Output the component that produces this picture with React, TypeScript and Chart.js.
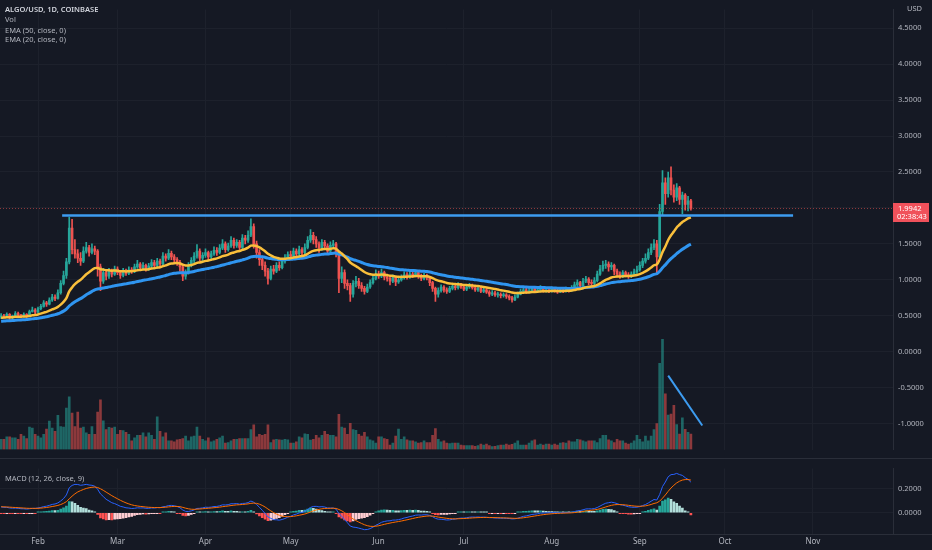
import React, { useEffect, useRef } from 'react';
import { Chart, registerables } from 'chart.js';
Chart.register(...registerables);

// ---------- DATA ----------
const firstOpen = 0.48;
const closes = [
  0.50,0.49,0.52,0.47,0.50,0.53,0.51,0.49,0.52,0.50,
  0.56,0.58,0.55,0.60,0.63,0.68,0.66,0.72,0.76,0.74,
  0.82,0.95,1.06,1.25,1.72,1.42,1.36,1.30,1.26,1.40,
  1.45,1.38,1.43,1.40,1.18,0.98,1.10,1.05,1.12,1.08,
  1.15,1.10,1.06,1.12,1.09,1.14,1.12,1.18,1.22,1.17,
  1.20,1.15,1.19,1.24,1.20,1.26,1.22,1.33,1.30,1.37,
  1.32,1.28,1.24,1.18,1.05,1.10,1.20,1.27,1.33,1.40,
  1.30,1.34,1.38,1.32,1.36,1.41,1.38,1.44,1.50,1.42,
  1.47,1.55,1.48,1.52,1.45,1.58,1.55,1.62,1.74,1.50,
  1.38,1.28,1.20,1.12,1.02,1.15,1.12,1.20,1.17,1.26,
  1.30,1.35,1.33,1.40,1.36,1.42,1.38,1.45,1.55,1.62,
  1.56,1.50,1.44,1.52,1.47,1.40,1.48,1.50,1.38,1.02,
  1.10,0.95,0.92,0.80,0.95,0.98,0.92,0.88,0.84,0.90,
  0.96,1.02,1.08,1.05,1.10,1.04,1.02,0.98,1.03,0.97,
  1.00,1.03,1.07,1.04,1.08,1.06,1.10,1.05,1.02,1.06,
  1.03,0.96,0.88,0.80,0.85,0.90,0.86,0.84,0.88,0.91,
  0.89,0.93,0.90,0.87,0.90,0.92,0.89,0.86,0.88,0.84,
  0.86,0.83,0.80,0.82,0.79,0.80,0.78,0.79,0.77,0.75,
  0.72,0.76,0.80,0.84,0.86,0.83,0.85,0.88,0.84,0.86,
  0.89,0.85,0.86,0.84,0.87,0.85,0.83,0.86,0.84,0.87,
  0.85,0.88,0.93,0.96,0.92,0.98,1.01,0.96,0.95,0.99,
  1.08,1.15,1.20,1.22,1.18,1.20,1.12,1.08,1.05,1.10,
  1.07,1.05,1.08,1.11,1.14,1.20,1.26,1.30,1.38,1.45,
  1.50,1.32,1.95,2.35,2.20,2.42,2.25,2.15,2.28,2.12,
  2.18,2.05,2.10,1.9942,
];
const highs = [
  0.53,0.52,0.54,0.53,0.51,0.56,0.55,0.52,0.54,0.53,
  0.58,0.62,0.60,0.62,0.66,0.71,0.70,0.75,0.80,0.79,
  0.86,0.99,1.12,1.30,1.87,1.84,1.56,1.42,1.38,1.46,
  1.52,1.48,1.50,1.47,1.42,1.22,1.16,1.14,1.16,1.15,
  1.19,1.18,1.13,1.16,1.15,1.18,1.17,1.22,1.27,1.24,
  1.24,1.22,1.23,1.28,1.27,1.30,1.29,1.38,1.36,1.42,
  1.40,1.35,1.31,1.27,1.20,1.14,1.24,1.31,1.38,1.49,
  1.43,1.38,1.43,1.40,1.40,1.46,1.45,1.49,1.56,1.53,
  1.51,1.60,1.58,1.56,1.55,1.63,1.62,1.68,1.85,1.78,
  1.54,1.42,1.33,1.25,1.16,1.19,1.20,1.24,1.25,1.30,
  1.35,1.39,1.40,1.44,1.43,1.47,1.45,1.50,1.60,1.70,
  1.66,1.60,1.53,1.56,1.55,1.50,1.53,1.55,1.52,1.40,
  1.18,1.14,1.00,0.95,0.99,1.05,1.02,0.96,0.91,0.94,
  1.00,1.06,1.14,1.12,1.15,1.12,1.08,1.05,1.07,1.05,
  1.04,1.07,1.11,1.10,1.12,1.11,1.14,1.12,1.08,1.09,
  1.08,1.05,0.98,0.90,0.89,0.93,0.92,0.89,0.91,0.94,
  0.93,0.96,0.95,0.92,0.93,0.95,0.94,0.91,0.91,0.90,
  0.89,0.88,0.85,0.85,0.84,0.83,0.82,0.82,0.81,0.79,
  0.77,0.79,0.83,0.87,0.89,0.88,0.88,0.91,0.90,0.89,
  0.92,0.90,0.89,0.88,0.90,0.89,0.87,0.88,0.88,0.90,
  0.89,0.92,0.97,1.00,0.98,1.02,1.05,1.03,1.00,1.03,
  1.12,1.20,1.26,1.27,1.25,1.24,1.22,1.15,1.11,1.13,
  1.12,1.10,1.11,1.15,1.19,1.25,1.30,1.36,1.43,1.50,
  1.56,1.55,2.05,2.52,2.42,2.50,2.57,2.32,2.34,2.30,
  2.22,2.20,2.16,2.12,
];
const lows = [
  0.46,0.47,0.48,0.45,0.46,0.49,0.50,0.47,0.48,0.48,
  0.49,0.55,0.53,0.54,0.58,0.62,0.63,0.65,0.70,0.71,
  0.73,0.80,0.93,1.02,1.22,1.36,1.30,1.24,1.20,1.24,
  1.37,1.33,1.36,1.35,1.05,0.85,0.95,1.00,1.02,1.04,
  1.06,1.07,1.02,1.04,1.06,1.07,1.09,1.10,1.16,1.13,
  1.15,1.12,1.13,1.17,1.17,1.16,1.18,1.20,1.26,1.28,
  1.28,1.24,1.20,1.12,0.99,1.01,1.08,1.18,1.24,1.30,
  1.26,1.27,1.31,1.28,1.29,1.34,1.34,1.36,1.42,1.38,
  1.40,1.45,1.44,1.45,1.41,1.43,1.50,1.52,1.60,1.44,
  1.30,1.20,1.14,1.05,0.94,1.00,1.08,1.10,1.13,1.15,
  1.23,1.28,1.29,1.31,1.32,1.34,1.34,1.36,1.43,1.52,
  1.50,1.45,1.38,1.41,1.42,1.35,1.37,1.44,1.32,0.82,
  0.96,0.88,0.86,0.70,0.76,0.90,0.88,0.84,0.80,0.82,
  0.88,0.94,1.00,1.02,1.03,1.00,0.98,0.93,0.96,0.92,
  0.95,0.98,1.01,1.01,1.02,1.03,1.04,1.02,0.99,1.00,
  1.00,0.92,0.84,0.70,0.76,0.83,0.83,0.81,0.82,0.86,
  0.86,0.87,0.88,0.85,0.85,0.88,0.87,0.84,0.84,0.82,
  0.82,0.81,0.77,0.78,0.77,0.76,0.75,0.76,0.74,0.72,
  0.69,0.71,0.75,0.79,0.82,0.81,0.82,0.84,0.82,0.83,
  0.85,0.83,0.83,0.82,0.83,0.83,0.81,0.82,0.82,0.83,
  0.83,0.84,0.87,0.91,0.89,0.91,0.96,0.93,0.92,0.93,
  0.97,1.06,1.12,1.16,1.12,1.14,1.07,1.04,1.02,1.03,
  1.04,1.02,1.03,1.06,1.09,1.12,1.17,1.23,1.28,1.35,
  1.42,1.07,1.30,1.90,2.05,2.15,2.18,2.08,2.10,2.05,
  1.92,1.97,1.96,1.97,
];
const volumes = [
  10.7,10.7,13.3,13.3,12.3,12.3,10.7,15.7,14,11.3,
  23.3,22.3,15.7,14,12.3,15.7,21.3,29.7,22.3,19,
  35.7,24,23.3,43.3,55,38,24,39,22.3,23.3,
  17.3,15.7,24,15.7,39,51.7,30,20.7,23,22.3,
  23.3,15.7,20,19.7,18,15.7,9,12.3,14.7,14.7,
  17.3,13.3,17.3,14.7,10.7,34,19,13.3,17.3,9,
  9,8,10,10.7,11.3,14,9,13.3,14,23.3,
  14,10.7,9,12.3,8,9,10.7,12.3,14,6.7,
  7.3,9,10.7,10.7,11.3,11.3,11.3,11.3,20.7,25.7,
  13.3,15.7,14.7,15.7,25.7,7.3,10,10.7,10,9.7,
  10.7,10,6.7,6.7,8,13.3,12.3,16.3,15.7,9.7,
  10.7,14.7,12.3,14.7,19,15.7,14.7,14.7,13.3,36.7,
  23.3,22.3,15.7,27.3,20.7,20,15.7,14,18,13.3,
  10,9,6.7,13.3,13.3,11.3,10.7,4.7,6.7,14,
  21.3,10.7,13.3,10,9,9,8,6.7,7.3,9,
  7.3,7.3,14.7,21.7,10.7,8,9,6.7,6.3,6.7,
  6.7,6.7,4.7,4,4,4,4,3.3,4,5.7,
  4.7,5.7,4,3,3.3,4,4.7,4.7,5.7,4.7,
  5.3,6.7,9,4.7,4.7,4.7,6.7,9,10,4.7,
  5.7,4.7,5.7,5.7,4.7,5.7,4.7,6.7,7.3,6.7,
  9,8,8,10.7,10,9,8,9,9,9,
  7.3,11.3,14.7,14.7,10,9,7.3,10.7,9,9,
  6.7,5.7,6.7,9,14.7,10.7,8,14,9,14,
  20.7,27,90,115,58,36,37,46,26,16,
  33,21,18,16,
];
const monthTicks = [13, 41, 72, 102, 133, 163, 194, 225, 255, 286];
const monthLabels = ['Feb', 'Mar', 'Apr', 'May', 'Jun', 'Jul', 'Aug', 'Sep', 'Oct', 'Nov'];
const priceTicks = [-1, -0.5, 0, 0.5, 1, 1.5, 2, 2.5, 3, 3.5, 4, 4.5];
const macdTicks = [0, 0.2];
const resistanceX = [21.5, 279];
const resistanceY = [1.893, 1.893];
const trendX = [235, 247];
const trendY = [-0.333, -1.027];
// indicator seeds (values of the averages just before the first visible bar)
const seedEma50 = 0.42;
const seedEma20 = 0.47;
const seedEma12 = 0.48;
const seedEma26 = 0.43;
const seedSignal = 0.05;

// ---------- STYLE ----------
const X_MIN = -0.39;
const X_MAX = 314.2;
const BG = '#151924';
const GRID = '#1d212c';
const SEP = '#2a2e39';
const TXT = '#b2b5be';
const UP = '#26a69a';
const DOWN = '#ef5350';
const FONT = '"Noto Sans", sans-serif';
const FS = 7.5;
const AXIS_W = 39;

function ema(values: number[], period: number, seed: number): number[] {
  const k = 2 / (period + 1);
  let prev = seed;
  return values.map((v) => {
    prev = v * k + prev * (1 - k);
    return prev;
  });
}

const opens = closes.map((_, i) => (i === 0 ? firstOpen : closes[i - 1]));
const isUp = closes.map((c, i) => c >= opens[i]);
const ema50 = ema(closes, 50, seedEma50);
const ema20 = ema(closes, 20, seedEma20);
const e12 = ema(closes, 12, seedEma12);
const e26 = ema(closes, 26, seedEma26);
const macd = e12.map((v, i) => v - e26[i]);
const signal = ema(macd, 9, seedSignal);
const hist = macd.map((v, i) => v - signal[i]);
const histColors = hist.map((h, i) => {
  const p = i === 0 ? 0 : hist[i - 1];
  if (h >= 0) return h >= p ? '#26a69a' : '#b2dfdb';
  return h <= p ? '#ff5252' : '#ffcdd2';
});

const xScaleBase = (showLabels: boolean) => ({
  type: 'linear' as const,
  min: X_MIN,
  max: X_MAX,
  offset: false,
  grid: { color: GRID, drawTicks: false, offset: false, lineWidth: 1 },
  border: { display: false },
  ticks: {
    display: showLabels,
    color: TXT,
    font: { family: FONT, size: 8 },
    padding: 3,
    maxRotation: 0,
    autoSkip: false,
    callback: (v: number) => {
      const idx = monthTicks.indexOf(v);
      return idx >= 0 ? monthLabels[idx] : '';
    },
  },
  afterBuildTicks: (s: any) => {
    s.ticks = monthTicks.map((v) => ({ value: v }));
  },
  afterFit: (s: any) => {
    s.height = showLabels ? 16 : 0;
  },
});

const mainPlugin = {
  id: 'mainDecor',
  afterDraw(chart: any) {
    const { ctx, chartArea } = chart;
    const y = chart.scales.y;
    ctx.save();
    // price line
    const last = closes[closes.length - 1];
    const py = Math.round(y.getPixelForValue(last)) + 0.5;
    ctx.strokeStyle = 'rgba(239,83,80,0.55)';
    ctx.lineWidth = 1;
    ctx.setLineDash([1, 2]);
    ctx.beginPath();
    ctx.moveTo(chartArea.left, py);
    ctx.lineTo(chartArea.right, py);
    ctx.stroke();
    ctx.setLineDash([]);
    // separator
    ctx.strokeStyle = SEP;
    ctx.beginPath();
    ctx.moveTo(0, chart.height - 0.5);
    ctx.lineTo(chart.width, chart.height - 0.5);
    ctx.stroke();
    // last price box
    ctx.fillStyle = '#f0515b';
    ctx.fillRect(chartArea.right, py - 5.5, 36, 19);
    ctx.fillStyle = '#ffffff';
    ctx.font = `${FS}px ${FONT}`;
    ctx.textBaseline = 'middle';
    ctx.textAlign = 'left';
    ctx.fillText(last.toFixed(4), chartArea.right + 5, py);
    ctx.fillText('02:38:43', chartArea.right + 4, py + 8.5);
    // USD
    ctx.fillStyle = TXT;
    ctx.fillText('USD', chartArea.right + 14, 9);
    // legend
    ctx.font = `600 ${FS}px ${FONT}`;
    ctx.fillStyle = '#d1d4dc';
    ctx.fillText('ALGO/USD, 1D, COINBASE', 5, 10);
    ctx.font = `${FS}px ${FONT}`;
    ctx.fillStyle = TXT;
    ctx.fillText('Vol', 5, 19.5);
    ctx.fillText('EMA (50, close, 0)', 5, 30.5);
    ctx.fillText('EMA (20, close, 0)', 5, 40);
    ctx.restore();
  },
};

const macdPlugin = {
  id: 'macdDecor',
  afterDraw(chart: any) {
    const { ctx, chartArea } = chart;
    ctx.save();
    ctx.strokeStyle = SEP;
    ctx.lineWidth = 1;
    ctx.beginPath();
    ctx.moveTo(0, chartArea.bottom + 0.5);
    ctx.lineTo(chart.width, chartArea.bottom + 0.5);
    ctx.stroke();
    ctx.font = `${FS}px ${FONT}`;
    ctx.fillStyle = TXT;
    ctx.textBaseline = 'middle';
    ctx.fillText('MACD (12, 26, close, 9)', 5, chartArea.top + 10);
    ctx.restore();
  },
};

export default function App() {
  const mainRef = useRef<HTMLCanvasElement>(null);
  const macdRef = useRef<HTMLCanvasElement>(null);

  useEffect(() => {
    document.body.style.margin = '0';
    document.body.style.background = BG;
    const idx = closes.map((_, i) => i);
    const candleColors = isUp.map((u) => (u ? UP : DOWN));
    const volColors = isUp.map((u) => (u ? 'rgba(38,166,154,0.55)' : 'rgba(239,83,80,0.55)'));

    const main = new Chart(mainRef.current!, {
      type: 'bar',
      data: {
        datasets: [
          {
            type: 'line',
            label: 'resistance',
            data: resistanceX.map((x, i) => ({ x, y: resistanceY[i] })),
            borderColor: '#3d9cf0',
            borderWidth: 2.5,
            pointRadius: 0,
            yAxisID: 'y',
            order: 0,
          } as any,
          {
            type: 'line',
            label: 'trend',
            data: trendX.map((x, i) => ({ x, y: trendY[i] })),
            borderColor: '#3d9cf0',
            borderWidth: 2,
            pointRadius: 0,
            yAxisID: 'y',
            order: 0,
          } as any,
          {
            type: 'line',
            label: 'EMA 20',
            data: idx.map((i) => ({ x: i, y: ema20[i] })),
            borderColor: '#f9bf3b',
            borderWidth: 2.5,
            pointRadius: 0,
            tension: 0.3,
            yAxisID: 'y',
            order: 1,
          } as any,
          {
            type: 'line',
            label: 'EMA 50',
            data: idx.map((i) => ({ x: i, y: ema50[i] })),
            borderColor: '#2f95f0',
            borderWidth: 3,
            pointRadius: 0,
            tension: 0.3,
            yAxisID: 'y',
            order: 2,
          } as any,
          {
            label: 'body',
            data: idx.map((i) => ({ x: i, y: [opens[i], closes[i]] })),
            backgroundColor: candleColors,
            barThickness: 2,
            minBarLength: 1,
            grouped: false,
            yAxisID: 'y',
            order: 3,
          } as any,
          {
            label: 'wick',
            data: idx.map((i) => ({ x: i, y: [lows[i], highs[i]] })),
            backgroundColor: candleColors,
            barThickness: 1,
            grouped: false,
            yAxisID: 'y',
            order: 4,
          } as any,
          {
            label: 'Vol',
            data: idx.map((i) => ({ x: i, y: volumes[i] })),
            backgroundColor: volColors,
            barThickness: 2,
            grouped: false,
            yAxisID: 'yVol',
            order: 5,
          } as any,
        ],
      },
      options: {
        animation: false,
        responsive: false,
        maintainAspectRatio: false,
        events: [],
        layout: { padding: 0 },
        plugins: { legend: { display: false }, tooltip: { enabled: false } },
        scales: {
          x: xScaleBase(false) as any,
          y: {
            type: 'linear',
            position: 'right',
            min: -1.36,
            max: 4.76,
            grid: { color: GRID, drawTicks: false },
            border: { display: true, color: SEP },
            ticks: {
              color: TXT,
              font: { family: FONT, size: FS },
              padding: 5,
              callback: (v: any) => Number(v).toFixed(4),
            },
            afterBuildTicks: (s: any) => {
              s.ticks = priceTicks.map((v) => ({ value: v }));
            },
            afterFit: (s: any) => {
              s.width = AXIS_W;
            },
          },
          yVol: {
            type: 'linear',
            display: false,
            position: 'left',
            min: 0,
            max: 459,
          },
        },
      },
      plugins: [mainPlugin],
    });

    const macdChart = new Chart(macdRef.current!, {
      type: 'bar',
      data: {
        datasets: [
          {
            type: 'line',
            label: 'Signal',
            data: idx.map((i) => ({ x: i, y: signal[i] })),
            borderColor: '#ff6d00',
            borderWidth: 1,
            pointRadius: 0,
            order: 0,
          } as any,
          {
            type: 'line',
            label: 'MACD',
            data: idx.map((i) => ({ x: i, y: macd[i] })),
            borderColor: '#2962ff',
            borderWidth: 1,
            pointRadius: 0,
            order: 1,
          } as any,
          {
            label: 'Histogram',
            data: idx.map((i) => ({ x: i, y: hist[i] })),
            backgroundColor: histColors,
            barThickness: 2,
            minBarLength: 1,
            grouped: false,
            order: 2,
          } as any,
        ],
      },
      options: {
        animation: false,
        responsive: false,
        maintainAspectRatio: false,
        events: [],
        layout: { padding: { top: 1, left: 0, right: 0, bottom: 0 } },
        plugins: { legend: { display: false }, tooltip: { enabled: false } },
        scales: {
          x: xScaleBase(true) as any,
          y: {
            type: 'linear',
            position: 'right',
            min: -0.176,
            max: 0.366,
            grid: { color: GRID, drawTicks: false },
            border: { display: true, color: SEP },
            ticks: {
              color: TXT,
              font: { family: FONT, size: FS },
              padding: 5,
              callback: (v: any) => Number(v).toFixed(4),
            },
            afterBuildTicks: (s: any) => {
              s.ticks = macdTicks.map((v) => ({ value: v }));
            },
            afterFit: (s: any) => {
              s.width = AXIS_W;
            },
          },
        },
      },
      plugins: [macdPlugin],
    });

    return () => {
      main.destroy();
      macdChart.destroy();
    };
  }, []);

  return (
    <div style={{ width: 932, height: 550, background: BG, position: 'relative', overflow: 'hidden' }}>
      <canvas ref={mainRef} width={932} height={459} style={{ display: 'block', width: 932, height: 459 }} />
      <canvas ref={macdRef} width={932} height={91} style={{ display: 'block', width: 932, height: 91 }} />
    </div>
  );
}
